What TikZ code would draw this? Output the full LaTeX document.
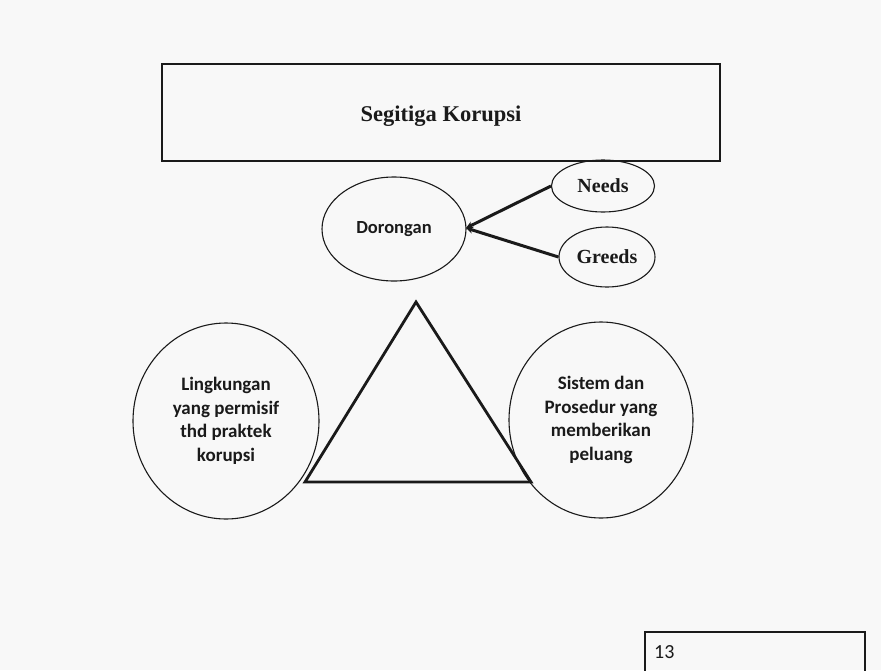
\documentclass[tikz,border=0pt]{standalone}
\usepackage{fontspec}
\setmainfont{Carlito}
\newfontfamily\serifb{Liberation Serif}
\usetikzlibrary{shapes.geometric,arrows.meta}
\definecolor{bgc}{HTML}{F8F8F8}
\definecolor{inkc}{HTML}{1A1A1A}
\tikzset{
  oval/.style={ellipse,draw=inkc,line width=1.1pt,inner sep=0pt,align=center},
  cal/.style={font=\fontsize{19}{23.5}\selectfont\bfseries,text=inkc},
  cam/.style={font=\serifb\fontsize{20}{22}\selectfont\bfseries,text=inkc},
  link/.style={line width=3pt,draw=inkc,-{Stealth[length=7pt,width=7pt]}}
}
\begin{document}
\begin{tikzpicture}[x=1pt,y=-1pt]
\fill[bgc] (0,0) rectangle (881,670);
\useasboundingbox (0,0) rectangle (881,670);
% title
\node[draw=inkc,line width=1.6pt,minimum width=558pt,minimum height=97pt,inner sep=0pt] (title) at (441,112.5) {};
\node[cam,font=\serifb\fontsize{22.5}{24}\selectfont\bfseries,yshift=-4pt] (titletext) at (title.center) {Segitiga Korupsi};
% ellipses
\node[oval,minimum width=144pt,minimum height=104pt,cal,font=\fontsize{18.5}{22}\selectfont\bfseries] (dor) at (394,229) {Dorongan};
\node[oval,minimum width=103pt,minimum height=52pt,cam] (needs) at (603,186) {Needs};
\node[oval,minimum width=96pt,minimum height=60pt,cam] (greeds) at (607,257) {Greeds};
\coordinate (tip) at (466,228);
\draw[link] (needs.west) -- (tip);
\draw[link] (greeds.west) -- (tip);
% triangle
\coordinate (apex) at (416,302);
\coordinate (bl) at (305,482);
\coordinate (br) at (531,482);
\draw[line width=2.8pt,draw=inkc,line join=miter] (apex) -- (bl) -- (br) -- cycle;
% side circles
\node[oval,minimum width=186pt,minimum height=196pt,cal] (ling) at (226,421) {Lingkungan\\yang permisif\\thd praktek\\korupsi};
\node[oval,minimum width=184pt,minimum height=196pt,cal] (sis) at (601,420) {Sistem dan\\Prosedur yang\\memberikan\\peluang};
% page number
\draw[draw=inkc,line width=1.4pt] (645,632) rectangle (865,672);
\node[anchor=west,font=\fontsize{20}{22}\selectfont,text=inkc,inner sep=0pt] (num) at (654,652) {13};
\end{tikzpicture}
\end{document}
